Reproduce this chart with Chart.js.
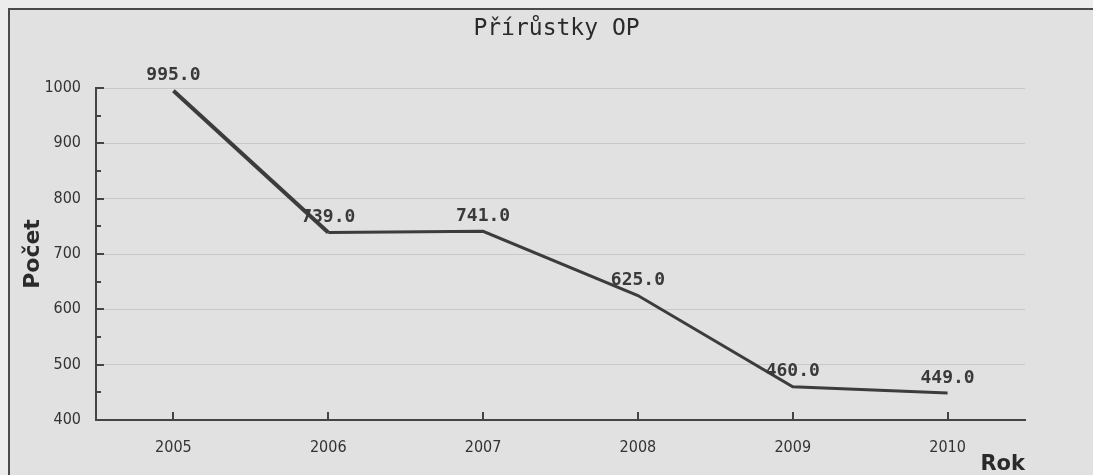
<!DOCTYPE html>
<html>
<head>
<meta charset="utf-8">
<script src="https://cdn.jsdelivr.net/npm/chart.js@4"></script>
<style>
  html, body { margin: 0; padding: 0; background: #ececec; width: 1093px; height: 475px; overflow: hidden; }
  #frame { position: absolute; left: 8px; top: 8px; right: -10px; bottom: -10px; border-left: 2px solid #4a4a4a; border-top: 2px solid #4a4a4a; background: #e1e1e1; }
  #c { position: absolute; left: 0; top: 0; }
</style>
</head>
<body>
<div id="frame"></div>
<canvas id="c" width="1093" height="475"></canvas>
<script>
const categories = ["2005", "2006", "2007", "2008", "2009", "2010"];
const values = [995, 739, 741, 625, 460, 449];
const yTicks = [400, 500, 600, 700, 800, 900, 1000];
const yMinorTicks = [450, 550, 650, 750, 850, 950];
const chartTitle = "Přírůstky OP";
const yTitle = "Počet";
const xTitle = "Rok";

const tickMarks = {
  id: 'tickMarks',
  afterDraw(chart) {
    const ctx = chart.ctx, y = chart.scales.y, x = chart.scales.x, a = chart.chartArea;
    ctx.save();
    ctx.strokeStyle = '#444';
    ctx.lineWidth = 2;
    ctx.beginPath();
    yTicks.forEach(v => { const p = Math.round(y.getPixelForValue(v)); ctx.moveTo(a.left, p); ctx.lineTo(a.left + 8, p); });
    yMinorTicks.forEach(v => { const p = Math.round(y.getPixelForValue(v)); ctx.moveTo(a.left, p); ctx.lineTo(a.left + 5, p); });
    categories.forEach((c, i) => { const p = Math.round(x.getPixelForValue(i)); ctx.moveTo(p, a.bottom); ctx.lineTo(p, a.bottom - 8); });
    ctx.stroke();
    ctx.restore();
  }
};

const centeredTitle = {
  id: 'centeredTitle',
  afterDraw(chart) {
    const ctx = chart.ctx, a = chart.chartArea;
    ctx.save();
    ctx.font = '23px "DejaVu Sans Mono"';
    ctx.fillStyle = '#2a2a2a';
    ctx.textAlign = 'center';
    ctx.textBaseline = 'middle';
    ctx.fillText(chartTitle, (a.left + a.right) / 2 - 4, 29);
    ctx.restore();
  }
};

const valueLabels = {
  id: 'valueLabels',
  afterDatasetsDraw(chart) {
    const ctx = chart.ctx;
    const meta = chart.getDatasetMeta(0);
    ctx.save();
    ctx.font = 'bold 18px "DejaVu Sans Mono"';
    ctx.fillStyle = '#3a3a3a';
    ctx.textAlign = 'center';
    ctx.textBaseline = 'middle';
    meta.data.forEach((pt, i) => {
      ctx.fillText(values[i].toFixed(1), pt.x, pt.y - 15);
    });
    ctx.restore();
  }
};

new Chart(document.getElementById('c'), {
  type: 'line',
  data: {
    labels: categories,
    datasets: [{
      data: values,
      borderColor: '#3c3c3c',
      borderWidth: 3,
      segment: { borderWidth: ctx => ctx.p0DataIndex === 0 ? 4 : 3 },
      pointRadius: 0,
      tension: 0,
      fill: false
    }]
  },
  options: {
    responsive: false,
    animation: false,
    devicePixelRatio: 1,
    layout: { padding: { left: 0, top: 88, right: 68, bottom: 0 } },
    plugins: {
      legend: { display: false },
      tooltip: { enabled: false },
      title: { display: false }
    },
    scales: {
      x: {
        type: 'category',
        offset: true,
        grid: { display: false, drawTicks: false, offset: false },
        border: { display: true, color: '#444', width: 2 },
        ticks: { color: '#333', font: { family: '"DejaVu Sans Condensed", "DejaVu Sans"', size: 16 }, padding: 18, maxRotation: 0 },
        title: { display: true, text: xTitle, align: 'end', color: '#2a2a2a', font: { family: '"DejaVu Sans"', size: 21, weight: 'bold', lineHeight: 1.2 }, padding: { top: 0, bottom: -2 } },
        afterFit(s) { s.height = 55; }
      },
      y: {
        min: 400, max: 1000,
        grid: { color: '#c9c9c9', lineWidth: 1, drawTicks: false },
        border: { display: true, color: '#444', width: 2 },
        ticks: { stepSize: 100, color: '#333', font: { family: '"DejaVu Sans Condensed", "DejaVu Sans"', size: 16 }, padding: 15, callback: v => String(v) },
        title: { display: true, text: yTitle, color: '#2a2a2a', font: { family: '"DejaVu Sans"', size: 22, weight: 'bold', lineHeight: 1.2 }, padding: { top: 20, bottom: 0 } },
        afterFit(s) { s.width = 96; }
      }
    }
  },
  plugins: [tickMarks, valueLabels, centeredTitle]
});
</script>
</body>
</html>
